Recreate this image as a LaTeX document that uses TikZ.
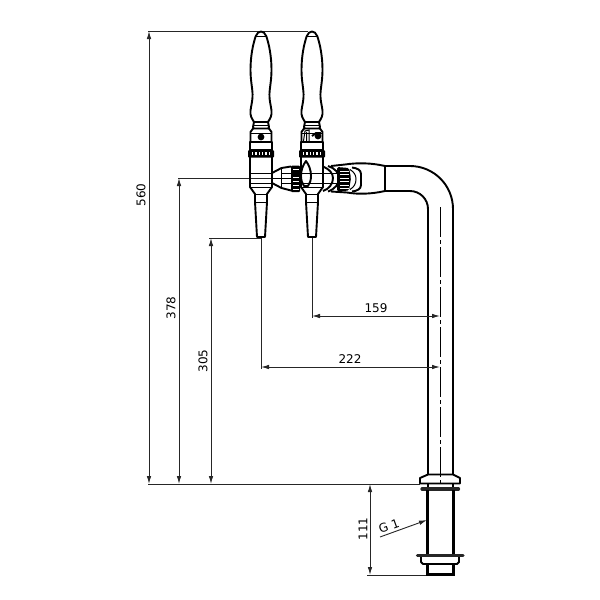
\documentclass[tikz,border=0pt]{standalone}
\usepackage{fontspec}
\setmainfont{DejaVu Sans}
\usetikzlibrary{arrows.meta}
\definecolor{dimc}{gray}{0.15}
\tikzset{
  main/.style={line width=1.9pt,black,line join=round},
  fine/.style={line width=1pt,black},
  dimext/.style={line width=0.9pt,dimc},
  dimarrow/.style={line width=0.9pt,dimc,{Latex[length=8pt,width=4.5pt]}-{Latex[length=8pt,width=4.5pt]}},
  dimtext/.style={font=\fontsize{12}{12}\selectfont,text=black,inner sep=0pt},
  pics/tap/.style={code={
    % handle
    \draw[main] (-5.2,36) .. controls (-4,33) and (-2,31.5) .. (0,31.5) .. controls (2,31.5) and (4,33) .. (5.2,36)
      .. controls (8,44) and (10.5,56) .. (10.5,70) .. controls (10.5,82) and (8,90) .. (8.5,97)
      .. controls (9,105) and (11,109) .. (10.5,114) .. controls (10,118) and (8,120) .. (7,122)
      -- (-7,122) .. controls (-8,120) and (-10,118) .. (-10.5,114)
      .. controls (-11,109) and (-9,105) .. (-8.5,97) .. controls (-8,90) and (-10.5,82) .. (-10.5,70)
      .. controls (-10.5,56) and (-8,44) .. (-5.2,36) -- cycle;
    \draw[fine] (-5.2,36) -- (5.2,36);
    \draw[main] (-7,122) -- (-8,127) -- (-7,129) (7,122) -- (8,127) -- (7,129);
    \draw[fine] (-8,125) -- (8,125);
    % cap
    \draw[main] (-10.5,142) -- (-10.5,132) -- (-8,128.5) -- (8,128.5) -- (10.5,132) -- (10.5,142);
    \draw[fine] (-10,133) -- (10,133);
    % box
    \draw[main] (-11,142) rectangle (11,150);
    % nut
    \fill[black,rounded corners=1pt] (-13,150) rectangle (13,157.5);
    \foreach \s in {-8.5,-5,-1.5,1.5,5,8.5} \fill[white] (\s-0.7,151.8) rectangle (\s+0.7,155.4);
    % body
    \draw[main] (-11,157) -- (-11,187) -- (-6,194) -- (-6,202) -- (-4,237) -- (4,237) -- (6,202) -- (6,194) -- (11,187) -- (11,157);
    \draw[fine] (-11,173) -- (11,173) (-11,183) -- (11,183) (-11,187) -- (11,187) (-6,194) -- (6,194) (-6,202.5) -- (6,202.5);
  }},
}
\begin{document}
\begin{tikzpicture}[x=1pt,y=-1pt]
\useasboundingbox (0,0) rectangle (600,600);
\fill[white] (0,0) rectangle (600,600);

% dimension extension lines
\draw[dimext] (148,31) -- (308,31);
\draw[dimext] (148,484) -- (420,484);
\draw[dimext] (178,178) -- (273,178);
\draw[dimext] (209,238) -- (261,238);
\draw[dimext] (261,238) -- (261,369);
\draw[dimext] (312,238) -- (312,318);
\draw[dimext] (367,575) -- (427,575);

% taps
\pic at (261,0) {tap};
\pic at (312,0) {tap};

% black details in the caps
\fill[black] (261,137) circle (3.4);
\fill[black] (318,136) circle (3.4);
\draw[fine] (303.5,141) -- (305,131) -- (309,130) -- (309,141) (306.5,132) -- (306.5,141);
\draw[main] (312,136) -- (316,133) -- (321,133);

% connection between the taps
\draw[main] (272,173) -- (281.5,168) -- (291,166.5) (272,183) -- (281.5,188) -- (291,190.5);
\draw[fine] (281.5,168) -- (281.5,188) (272,178) -- (291,178);
\fill[black,rounded corners=1pt] (291,165.5) rectangle (300,192);
\foreach \s in {169,173,177,181,185,189} \fill[white] (293,\s-0.5) rectangle (298.5,\s+0.5);
\draw[fine] (281,173) -- (300,173) (281,183) -- (300,183);

% teardrop
\draw[main] (306,161) .. controls (303,165) and (301,170) .. (301,176) .. controls (301,180) and (302,183) .. (304,186)
  -- (308,186) .. controls (310,183) and (311,180) .. (311,176) .. controls (311,170) and (309,165) .. (306,161) -- cycle;

% crescents right of the second tap
\draw[main] (323,166.5) .. controls (329,169) and (333,173) .. (333,178) .. controls (333,184) and (329,189) .. (323,191);
\draw[main] (328,166) .. controls (335,168) and (339,173) .. (339,178.5) .. controls (339,184) and (335,189) .. (328,191.5);
\draw[fine] (324,173) -- (338,173) (324,183) -- (338,183);

% sleeve
\draw[main] (331,166) -- (345,164.5) .. controls (358,162.5) and (372,163) .. (385,166) -- (385,191)
  .. controls (372,194) and (358,194.5) .. (347,192.5) -- (331,191.5);
\draw[main] (352,167.5) .. controls (357,168) and (361,170) .. (361,174) -- (361,185) .. controls (361,189) and (357,191) .. (352,191.5);
\draw[fine] (350,169.5) .. controls (354,172) and (356,175) .. (356,179) .. controls (356,184) and (354,187) .. (350,189.5);
% knurled nut
\fill[black,rounded corners=1.5pt] (337,167) -- (349,168) -- (351,178) -- (349,190.5) -- (337,191.5) -- cycle;
\foreach \s in {171,174.5,178,181.5,185,188} \fill[white] (340,\s-0.45) rectangle (349,\s+0.45);

% pipe
\draw[main] (385,166) -- (410,166) arc[start angle=-90,end angle=0,radius=43] -- (453,474.5);
\draw[main] (385,191) -- (410,191) arc[start angle=-90,end angle=0,radius=18] -- (428,474.5);
% centre line
\draw[fine,dash pattern=on 30pt off 3pt on 4pt off 3pt] (440,207) -- (440,484);

% collar
\draw[main] (428,474.5) -- (453,474.5) -- (460,478) -- (460,483.5) -- (420,483.5) -- (420,478) -- cycle;
\draw[main] (428,484) -- (428,488) (453,484) -- (453,488);
\draw[line width=3.2pt,black!85,line cap=round] (422,489) -- (458.5,489);

% threaded stem
\draw[line width=2.2pt] (427.5,490) -- (427.5,555) (453.5,490) -- (453.5,555);
\draw[line width=3.2pt,black!85,line cap=round] (417.5,555.7) -- (463,555.7);
\draw[main] (421,557) -- (421,562) -- (423,564) -- (457,564) -- (459,562) -- (459,557);
\draw[line width=2.2pt] (427.5,564) -- (427.5,574.5) -- (453.5,574.5) -- (453.5,564);

% dimensions
\coordinate (d560a) at (149,31); \coordinate (d560b) at (149,484);
\coordinate (d378a) at (179,178); \coordinate (d378b) at (179,484);
\coordinate (d305a) at (211,238); \coordinate (d305b) at (211,484);
\coordinate (d159a) at (312,316); \coordinate (d159b) at (440,316);
\coordinate (d222a) at (261,367); \coordinate (d222b) at (440,367);
\coordinate (d111a) at (370,484); \coordinate (d111b) at (370,575);
\draw[dimarrow] (d560a) -- (d560b);
\draw[dimarrow] (d378a) -- (d378b);
\draw[dimarrow] (d305a) -- (d305b);
\draw[dimarrow] (d159a) -- (d159b);
\draw[dimarrow] (d222a) -- (d222b);
\draw[dimarrow] (d111a) -- (d111b);
\node[dimtext,rotate=90] (t560) at (141,195) {560};
\node[dimtext,rotate=90] (t378) at (171,308) {378};
\node[dimtext,rotate=90] (t305) at (203,361) {305};
\node[dimtext] (t159) at (376,308) {159};
\node[dimtext] (t222) at (350,359) {222};
\node[dimtext,rotate=90] (t111) at (363,529) {111};
\node[dimtext,rotate=20] (tg) at (389,526) {G 1};
\coordinate (g0) at (380,537); \coordinate (g1) at (427,520);
\draw[line width=0.9pt,dimc,-{Latex[length=8pt,width=4.5pt]}] (g0) -- (g1);
\end{tikzpicture}
\end{document}
